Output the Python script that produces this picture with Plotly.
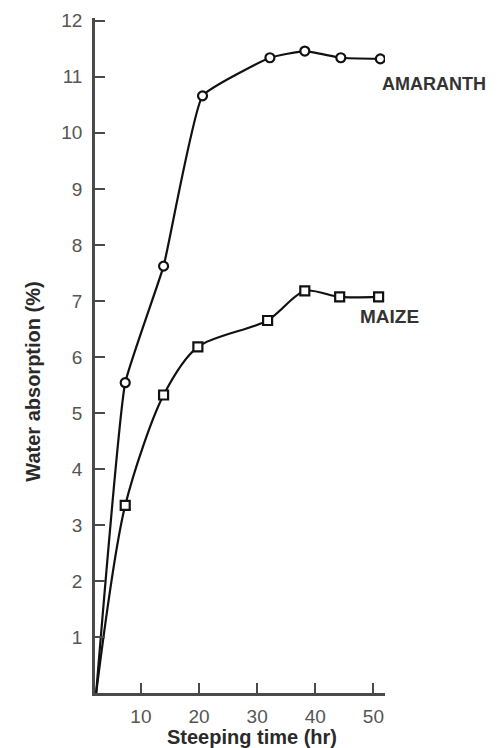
import plotly.graph_objects as go

# Data
amaranth_time = [2.3, 7.3, 13.9, 20.6, 32.2, 38.2, 44.4, 51.2]
amaranth_abs = [0.0, 5.54, 7.62, 10.66, 11.34, 11.46, 11.34, 11.32]
amaranth_marked = [False, True, True, True, True, True, True, True]

maize_time = [2.3, 7.3, 13.9, 19.8, 31.8, 38.2, 44.2, 50.9]
maize_abs = [0.0, 3.35, 5.32, 6.18, 6.65, 7.18, 7.07, 7.07]
maize_marked = [False, True, True, True, True, True, True, True]

x_ticks = [10, 20, 30, 40, 50]
y_ticks = list(range(1, 13))

AX = "#4a4a4a"
TXT = "#555555"
TITLE = "#2a2a2a"
FONT = "Liberation Sans, Arial, sans-serif"

W, H = 497, 748
ML, MR, MT, MB = 95, 112, 10, 55
XR = [2.1, 52.0]
YR = [0, 12.05]

fig = go.Figure()

def add_series(xs, ys, marked, symbol, name, smooth):
    fig.add_trace(go.Scatter(
        x=xs, y=ys, mode="lines", name=name,
        line=dict(color="#111111", width=2.2, shape="spline", smoothing=smooth),
        showlegend=False, hoverinfo="skip"))
    mx = [x for x, m in zip(xs, marked) if m]
    my = [y for y, m in zip(ys, marked) if m]
    fig.add_trace(go.Scatter(
        x=mx, y=my, mode="markers", name=name,
        marker=dict(symbol=symbol, size=9, color="white",
                    line=dict(color="#111111", width=2.2)),
        showlegend=False))

add_series(amaranth_time, amaranth_abs, amaranth_marked, "circle", "AMARANTH", 0.35)
add_series(maize_time, maize_abs, maize_marked, "square", "MAIZE", 0.8)

pw, ph = W - ML - MR, H - MT - MB
def px_to_paper(px, py):
    return (px - ML) / pw, (H - MB - py) / ph

axis_common = dict(ticks="inside", ticklen=10, tickwidth=2, tickcolor=AX,
                   showline=True, linecolor=AX, linewidth=2.5, showgrid=False,
                   zeroline=False, tickfont=dict(size=19, color=TXT))

fig.update_layout(
    width=W, height=H,
    margin=dict(l=ML, r=MR, t=MT, b=MB),
    paper_bgcolor="white", plot_bgcolor="white",
    font=dict(family=FONT, color=TXT, size=19),
    xaxis=dict(range=XR, tickvals=x_ticks, ticklabelstandoff=4, **axis_common),
    yaxis=dict(range=YR, tickvals=y_ticks, ticklabelstandoff=6, **axis_common),
)

fig.add_annotation(text="<b>AMARANTH</b>", x=51.1, y=10.87, xref="x", yref="y",
                   xanchor="left", yanchor="middle", showarrow=False,
                   font=dict(size=18, color="#333333", family=FONT))
fig.add_annotation(text="<b>MAIZE</b>", x=47.35, y=6.72, xref="x", yref="y",
                   xanchor="left", yanchor="middle", showarrow=False,
                   font=dict(size=19, color="#333333", family=FONT))

tx, ty = px_to_paper(252, 738)
fig.add_annotation(text="<b>Steeping time (hr)</b>", x=tx, y=ty,
                   xref="paper", yref="paper", showarrow=False,
                   xanchor="center", yanchor="middle",
                   font=dict(size=20, color=TITLE, family=FONT))
yx, yy = px_to_paper(33, 378)
fig.add_annotation(text="<b>Water absorption (%)</b>", x=yx, y=yy,
                   xref="paper", yref="paper", textangle=-90, showarrow=False,
                   xanchor="center", yanchor="middle",
                   font=dict(size=20, color=TITLE, family=FONT))

fig.write_html("out.html", config={"displayModeBar": False},
               post_script="document.body.style.margin='0';document.body.style.overflow='hidden';")
